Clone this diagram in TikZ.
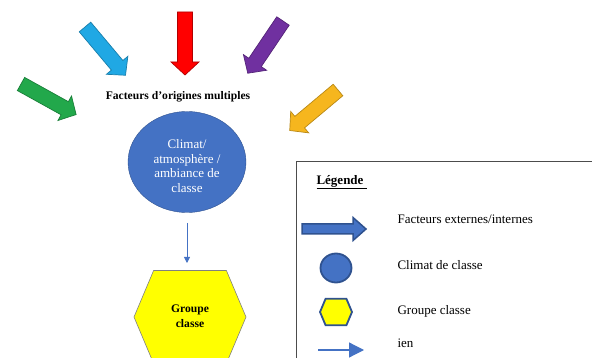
\documentclass[tikz,border=0pt]{standalone}
\usepackage{fontspec}
\setmainfont{Liberation Serif}
\usepackage{tikz}
\usetikzlibrary{arrows.meta}
\usetikzlibrary{shapes.geometric}
\definecolor{bleuclimat}{RGB}{68,114,196}
\definecolor{bleufonce}{RGB}{47,82,143}
\definecolor{vertfl}{RGB}{34,168,75}
\definecolor{cielfl}{RGB}{32,168,228}
\definecolor{rougefl}{RGB}{255,0,0}
\definecolor{violetfl}{RGB}{112,48,160}
\definecolor{orfl}{RGB}{246,182,30}
\definecolor{jaunehex}{RGB}{255,255,0}
\tikzset{t/.style={font=\fontsize{13}{14.5}\selectfont}}
\tikzset{b/.style={font=\bfseries\fontsize{11.6}{15}\selectfont}}
\tikzset{grosse/.pic={\draw[pic actions] (0,-7.5) -- (50,-7.5) -- (50,-14) -- (63,0) -- (50,14) -- (50,7.5) -- (0,7.5) -- cycle;}}
\tikzset{legfleche/.pic={\draw[pic actions] (0,-5) -- (51,-5) -- (51,-11.5) -- (64,0) -- (51,11.5) -- (51,5) -- (0,5) -- cycle;}}
\tikzset{hexa/.pic={\draw[pic actions] (-1,0) -- (-0.65,-0.83) -- (0.65,-0.83) -- (1,0) -- (0.65,0.83) -- (-0.65,0.83) -- cycle;}}
\tikzset{bloc/.style={line width=0.7pt, line join=miter}}

\begin{document}
\begin{tikzpicture}[x=1pt, y=-1pt]
        \useasboundingbox (0,0) rectangle (592,358);
        % les facteurs
        \pic[bloc, fill=vertfl, draw=vertfl!75!black, rotate=-29] at (21,84) {grosse};
        \pic[bloc, fill=cielfl, draw=cielfl!75!black, rotate=-50] at (85,27) {grosse};
        \pic[bloc, fill=rougefl, draw=rougefl!70!black, rotate=-90] at (185,12) {grosse};
        \pic[bloc, fill=violetfl, draw=violetfl!75!black, rotate=-124] at (283,21) {grosse};
        \pic[bloc, fill=orfl, draw=orfl!75!black, rotate=-140] at (338,90) {grosse};
        \node[b] (titre) at (178,97) {Facteurs d’origines multiples};
        % climat et groupe
        \node (climat) at (187,162) [ellipse, fill=bleuclimat, draw=bleufonce,
          minimum width=118pt, minimum height=101pt, inner sep=0pt] {};
        \node[t, text=white, align=center, yshift=-4pt] (climattexte) at (climat) {Climat/\\atmosphère /\\ambiance de\\classe};
        \pic[fill=jaunehex, draw=gray, line width=0.6pt, scale=56] at (190,317) {hexa};
        \node[b, align=center] (groupe) at (190,316) {Groupe\\classe};
        \coordinate (debut) at (187,223);
        \coordinate (fin) at (187,263);
        \draw[bleuclimat, line width=0.8pt, -{Triangle[length=6pt,width=6pt]}] (debut) -- (fin);
        % legende
        \draw[gray!60!black, line width=1pt] (296,162) rectangle (600,370);
        \node[t, anchor=west, font=\bfseries\fontsize{13}{14.5}\selectfont] (legende) at (313,182) {\underline{Légende }};
        \pic[fill=bleuclimat, draw=bleufonce, line width=1.5pt] at (302,229) {legfleche};
        \node[t, anchor=west] (lfact) at (394,219) {Facteurs externes/internes};
        \node (lcercle) at (336,268) [ellipse, fill=bleuclimat, draw=bleufonce,
          line width=1.8pt, minimum width=31pt, minimum height=29pt] {};
        \node[t, anchor=west] (lclimat) at (394,265) {Climat de classe};
        \pic[fill=jaunehex, draw=bleufonce, line width=1.8pt, scale=16] at (336,312) {hexa};
        \node[t, anchor=west] (lgroupe) at (394,311) {Groupe classe};
        \coordinate (ldebut) at (318,350);
        \coordinate (lfin) at (364,350);
        \draw[bleuclimat, line width=1.2pt, -{Triangle[length=15pt,width=15pt]}] (ldebut) -- (lfin);
        \node[t, anchor=west] (llien) at (394,343) {ien};
      \end{tikzpicture}
\end{document}
